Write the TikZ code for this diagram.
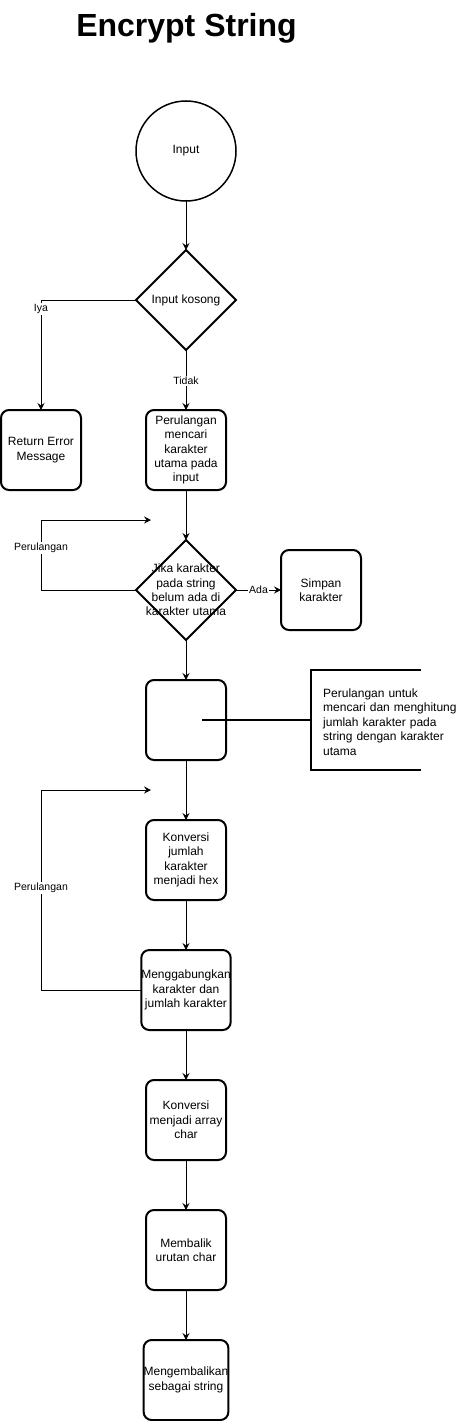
\documentclass[tikz,border=0pt]{standalone}
\usepackage{fontspec}
\setmainfont{Liberation Sans}
\usetikzlibrary{positioning,shapes.geometric,arrows.meta}

\begin{document}
\begin{tikzpicture}[x=1pt, y=-1pt, node distance=50pt,
	every node/.style = {font=\fontsize{12}{14.4}\selectfont, align=center},
	proses/.style = {shape=rectangle, rounded corners=8pt, draw,
		line width=2pt, minimum width=80pt, minimum height=80pt,
		inner sep=0pt, outer sep=0pt},
	mulai/.style = {shape=circle, draw, line width=1.5pt, minimum size=100pt, outer sep=0pt},
	keputusan/.style = {shape=diamond, draw, line width=2pt,
		minimum width=100pt, minimum height=100pt, inner sep=0pt, outer sep=0pt},
	panah/.style = {-{Stealth[length=7pt,width=7pt,inset=2.5pt]}, line width=1pt},
	garis/.style = {line width=1.5pt},
	teks/.style = {font=\fontsize{10.5}{12}\selectfont, fill=white, inner sep=1pt}]
	\useasboundingbox (0,0) rectangle (461,1421);

	\node[font=\fontsize{32}{38}\selectfont\bfseries, anchor=base] (judul) at (186.5,37) {Encrypt String};

	\node[mulai] (input) at (186,151) {Input};
	\node[keputusan, below=49pt of input] (kosong) {Input kosong};
	\node[proses, below=60pt of kosong] (cari) {Perulangan\\mencari\\karakter\\utama pada\\input};
	\node[proses, left=65pt of cari] (error) {Return Error\\Message};
	\node[keputusan, below=50pt of cari,
		label={[align=center]center:Jika karakter\\pada string\\belum ada di\\karakter utama}] (cek) {};
	\node[proses, right=45pt of cek] (simpan) {Simpan\\karakter};
	\node[proses, below=40pt of cek] (hitung) {};
	\node[proses, below=60pt of hitung] (hex) {Konversi\\jumlah\\karakter\\menjadi hex};
	\node[proses, below=of hex] (gabung) {Menggabungkan\\karakter dan\\jumlah karakter};
	\node[proses, below=of gabung] (array) {Konversi\\menjadi array\\char};
	\node[proses, below=of array] (balik) {Membalik\\urutan char};
	\node[proses, below=of balik] (kembali) {Mengembalikan\\sebagai string};

	% keterangan
	\node[text width=140pt, inner sep=0pt, anchor=west, align=left] (ket) at (323,722)
		{Perulangan untuk\\mencari dan menghitung\\jumlah karakter pada\\string dengan karakter\\utama};
	\coordinate (ka) at (311,670);
	\draw[garis] (ka) ++(110,0) -- (ka) |- ++(110,100);
	\coordinate (ujung) at (202,720);
	\draw[garis] (ujung) -- (ujung -| ka);

	\coordinate (ulang1) at (151,520);
	\coordinate (ulang2) at (151,790);

	\draw[panah] (input) -- (kosong);
	\draw[panah] (kosong.west) -| node[teks, pos=0.54] {Iya} (error.north);
	\draw[panah] (kosong) -- node[teks, pos=0.52] {Tidak} (cari);
	\draw[panah] (cari) -- (cek);
	\draw[panah] (cek.west) -| node[teks, pos=0.8] {Perulangan} (error.center |- ulang1) -- (ulang1);
	\draw[panah] (cek.east) -- node[teks] {Ada} (simpan.west);
	\draw[panah] (cek) -- (hitung);
	\draw[panah] (hitung) -- (hex);
	\draw[panah] (hex) -- (gabung);
	\draw[panah] (gabung.west) -| node[teks, pos=0.755] {Perulangan} (error.center |- ulang2) -- (ulang2);
	\draw[panah] (gabung) -- (array);
	\draw[panah] (array) -- (balik);
	\draw[panah] (balik) -- (kembali);
\end{tikzpicture}
\end{document}
